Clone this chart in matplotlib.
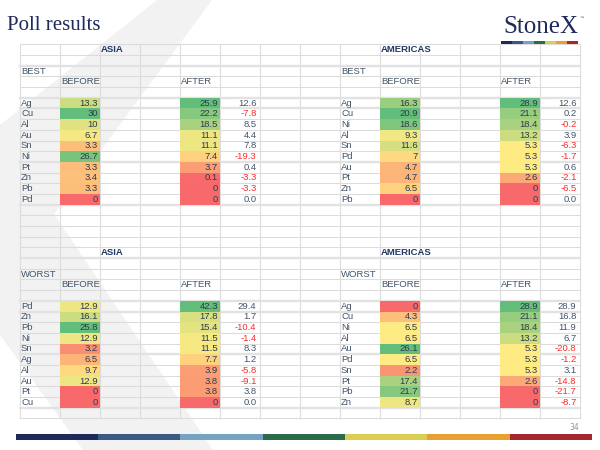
import numpy as np
import matplotlib.pyplot as plt
from matplotlib.patches import Rectangle, Polygon

# poll data
asia_best_metals = ["Ag", "Cu", "Al", "Au", "Sn", "Ni", "Pt", "Zn", "Pb", "Pd"]
asia_best_before = [13.3, 30, 10, 6.7, 3.3, 26.7, 3.3, 3.4, 3.3, 0]
asia_best_after = [25.9, 22.2, 18.5, 11.1, 11.1, 7.4, 3.7, 0.1, 0, 0]
asia_best_diff = [12.6, -7.8, 8.5, 4.4, 7.8, -19.3, 0.4, -3.3, -3.3, 0.0]

amer_best_metals = ["Ag", "Cu", "Ni", "Al", "Sn", "Pd", "Au", "Pt", "Zn", "Pb"]
amer_best_before = [16.3, 20.9, 18.6, 9.3, 11.6, 7, 4.7, 4.7, 6.5, 0]
amer_best_after = [28.9, 21.1, 18.4, 13.2, 5.3, 5.3, 5.3, 2.6, 0, 0]
amer_best_diff = [12.6, 0.2, -0.2, 3.9, -6.3, -1.7, 0.6, -2.1, -6.5, 0.0]

asia_worst_metals = ["Pd", "Zn", "Pb", "Ni", "Sn", "Ag", "Al", "Au", "Pt", "Cu"]
asia_worst_before = [12.9, 16.1, 25.8, 12.9, 3.2, 6.5, 9.7, 12.9, 0, 0]
asia_worst_after = [42.3, 17.8, 15.4, 11.5, 11.5, 7.7, 3.9, 3.8, 3.8, 0]
asia_worst_diff = [29.4, 1.7, -10.4, -1.4, 8.3, 1.2, -5.8, -9.1, 3.8, 0.0]

amer_worst_metals = ["Ag", "Cu", "Ni", "Al", "Au", "Pd", "Sn", "Pt", "Pb", "Zn"]
amer_worst_before = [0, 4.3, 6.5, 6.5, 26.1, 6.5, 2.2, 17.4, 21.7, 8.7]
amer_worst_after = [28.9, 21.1, 18.4, 13.2, 5.3, 5.3, 5.3, 2.6, 0, 0]
amer_worst_diff = [28.9, 16.8, 11.9, 6.7, -20.8, -1.2, 3.1, -14.8, -21.7, -8.7]

brand_colors = ["#1f2a5c", "#3a5a85", "#76a3c4", "#2c6b4a", "#dccd55", "#e8a030", "#a3282f"]

RED = np.array([248, 105, 107]) / 255
YEL = np.array([255, 235, 132]) / 255
GRN = np.array([99, 190, 123]) / 255

TXT = "#44546a"
NUM = "#2f3b4c"
NEG = "#ff2a2a"


def scale_colors(vals):
    # excel style red-yellow-green scale, midpoint at the median
    v = np.array(vals, float)
    lo, mid, hi = v.min(), np.percentile(v, 50), v.max()
    out = []
    for x in v:
        if x <= mid:
            t = 0 if mid == lo else (x - lo) / (mid - lo)
            out.append(RED + (YEL - RED) * t)
        else:
            t = (x - mid) / (hi - mid)
            out.append(YEL + (GRN - YEL) * t)
    return out


fig = plt.figure(figsize=(6, 4.5), dpi=100)
ax = fig.add_axes([0, 0, 1, 1])
ax.set_xlim(0, 600)
ax.set_ylim(450, 0)
ax.axis("off")

# watermark X
ax.add_patch(Polygon([(157, 0), (212, 0), (54, 214), (213, 450), (83, 450), (0, 335), (0, 125)],
                     closed=True, facecolor="#f2f2f2", edgecolor="none", zorder=0))

X0, CW, NCOL = 19.5, 40, 14
Y0, RH, NROW = 44.3, 10.69, 35

for c in range(NCOL + 1):
    ax.plot([X0 + c * CW] * 2, [Y0, Y0 + NROW * RH], color="#dcdcdc", lw=0.8, zorder=1)
thick = [2, 5, 6, 11, 15, 20, 24, 25, 29, 34]
for r in range(NROW + 1):
    lw = 1.7 if r in thick else 0.8
    col = "#e2e2e2" if r in thick else "#dcdcdc"
    ax.plot([X0, X0 + NCOL * CW], [Y0 + r * RH] * 2, color=col, lw=lw, zorder=1)


def cx(c):
    return X0 + c * CW


def cy(r):
    return Y0 + (r + 0.5) * RH


fs = 6.8


def block(col, row, region, label, metals, before, after, diff, hcol):
    ax.text(cx(hcol) + 1.5, cy(row), region, fontsize=fs, fontweight="bold", color="#1f3864",
            va="center", ha="left", family="Liberation Sans", zorder=3)
    ax.text(cx(col) + 1.5, cy(row + 2), label, fontsize=fs, color=TXT, va="center",
            family="Liberation Sans", zorder=3)
    ax.text(cx(col + 1) + 1.5, cy(row + 3), "BEFORE", fontsize=fs, color=TXT, va="center",
            family="Liberation Sans", zorder=3)
    ax.text(cx(col + 4) + 1.5, cy(row + 3), "AFTER", fontsize=fs, color=TXT, va="center",
            family="Liberation Sans", zorder=3)
    bc = scale_colors(before)
    ac = scale_colors(after)
    for i, m in enumerate(metals):
        r = row + 5 + i
        top = Y0 + r * RH
        ax.text(cx(col) + 1.5, cy(r), m, fontsize=fs, color=TXT, va="center",
                family="Liberation Sans", zorder=3)
        ax.add_patch(Rectangle((cx(col + 1), top), CW, RH, facecolor=bc[i], edgecolor="none", zorder=2))
        ax.add_patch(Rectangle((cx(col + 4), top), CW, RH, facecolor=ac[i], edgecolor="none", zorder=2))
        ax.text(cx(col + 2) - 1.5, cy(r), f"{before[i]:g}", fontsize=fs, color=NUM, va="center",
                ha="right", family="Liberation Sans", zorder=3)
        ax.text(cx(col + 5) - 1.5, cy(r), f"{after[i]:g}", fontsize=fs, color=NUM, va="center",
                ha="right", family="Liberation Sans", zorder=3)
        ax.text(cx(col + 6) - 3, cy(r), f"{diff[i]:.1f}", fontsize=fs,
                color=NEG if diff[i] < 0 else TXT, va="center", ha="right",
                family="Liberation Sans", zorder=3)


block(0, 0, "ASIA", "BEST", asia_best_metals, asia_best_before, asia_best_after, asia_best_diff, 2)
block(8, 0, "AMERICAS", "BEST", amer_best_metals, amer_best_before, amer_best_after, amer_best_diff, 9)
block(0, 19, "ASIA", "WORST", asia_worst_metals, asia_worst_before, asia_worst_after, asia_worst_diff, 2)
block(8, 19, "AMERICAS", "WORST", amer_worst_metals, amer_worst_before, amer_worst_after, amer_worst_diff, 9)

# title and logo
ax.text(7, 25, "Poll results", fontsize=15, color="#1f2a5c", family="Liberation Serif",
        va="center", ha="left")
ax.text(578, 27, "StoneX", fontsize=18, color="#1f2a5c", family="Liberation Serif",
        va="center", ha="right")
ax.text(579, 18, "™", fontsize=3.5, color="#1f2a5c", va="center", ha="left")

seg = (578 - 501) / len(brand_colors)
for i, c in enumerate(brand_colors):
    ax.add_patch(Rectangle((501 + i * seg, 41), seg, 3, facecolor=c, edgecolor="none"))

seg = (592 - 15.5) / len(brand_colors)
for i, c in enumerate(brand_colors):
    ax.add_patch(Rectangle((15.5 + i * seg, 434), seg, 6, facecolor=c, edgecolor="none"))

ax.text(579, 427, "34", fontsize=5.5, color="#8a99a8", ha="right", va="center")

fig.savefig("out.png", dpi=100)
